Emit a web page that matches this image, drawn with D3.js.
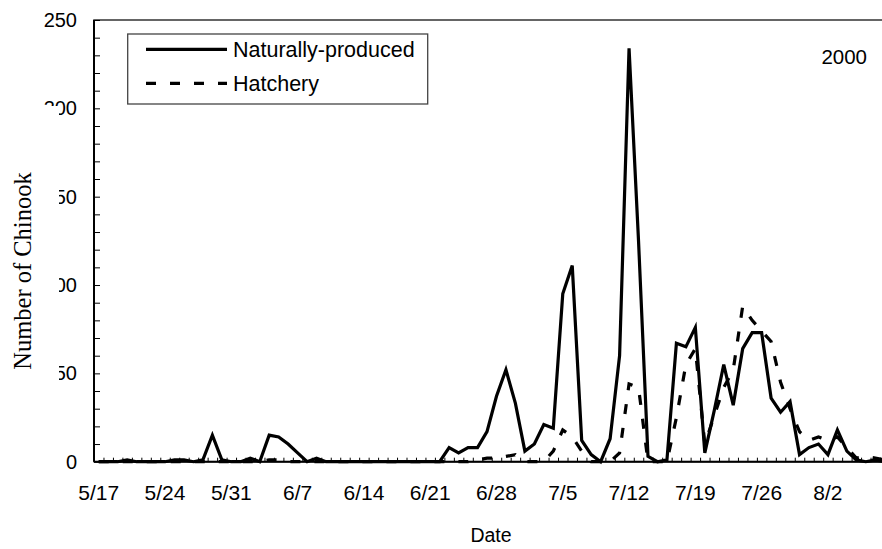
<!DOCTYPE html>
<html>
<head>
<meta charset="utf-8">
<script src="https://cdn.jsdelivr.net/npm/d3@7"></script>
<style>
  body { margin: 0; background: #fff; }
  svg { display: block; }
  text { font-family: "Liberation Sans", Arial, sans-serif; fill: #000; }
</style>
</head>
<body>
<svg width="882" height="549"></svg>
<script>
// daily categories, 5/17 .. 8/8 (2000)
const dates = d3.timeDay.range(new Date(2000, 4, 17), new Date(2000, 7, 9))
const fmt = d3.timeFormat("%-m/%-d")
const dayLabels = dates.map(fmt)

const tickLabels = ["5/17", "5/24", "5/31", "6/7", "6/14", "6/21", "6/28", "7/5", "7/12", "7/19", "7/26", "8/2"]
const yTicks = [0, 50, 100, 150, 200, 250]

// Naturally-produced, 5/17 .. 8/8
const natural = [
  0, 0, 0, 1, 0, 0, 0, 0, 1, 1, 0, 1, 15, 1, 0,          // 5/17-5/31
  0, 2, 0, 15, 14, 10, 5, 0, 2, 0, 0, 0, 0, 0, 0,        // 6/1-6/15
  0, 0, 0, 0, 0, 0, 0, 8, 5, 8, 8, 17, 37, 52, 33,       // 6/16-6/30
  6, 10, 21, 19, 95, 111, 12, 4, 0, 13, 60, 234, 125, 3, 0, // 7/1-7/15
  1, 67, 65, 76, 5, 29, 55, 32, 64, 73, 73, 36, 28, 34, 4, 8, // 7/16-7/31
  10, 4, 18, 6, 1, 0, 1, 0                               // 8/1-8/8
]

// Hatchery, 5/17 .. 8/8
const hatchery = [
  0, 0, 0, 0, 0, 0, 0, 0, 0, 0, 0, 0, 0, 0, 0,           // 5/17-5/31
  0, 0, 0, 1, 1, 0, 0, 0, 0, 0, 0, 0, 0, 0, 0,           // 6/1-6/15
  0, 0, 0, 0, 0, 0, 0, 0, 0, 0, 1, 2, 2, 3, 4,           // 6/16-6/30
  0, 0, 0, 6, 18, 14, 6, 0, 0, 0, 5, 44, 42, 0, 0,       // 7/1-7/15
  0, 25, 55, 64, 10, 26, 42, 52, 88, 80, 74, 68, 45, 30, 17, 12, // 7/16-7/31
  14, 12, 14, 8, 2, 3, 2, 1                              // 8/1-8/8
]

const svg = d3.select("svg")
const margin = {left: 94, top: 20}
const plotBottom = 461.7, step = 9.47

let x = d3.scaleBand()
  .domain(dayLabels)
  .range([margin.left, margin.left + step * dayLabels.length])
  .padding(0)
let xi = d3.scaleLinear().domain([0, dayLabels.length]).range(x.range())
let y = d3.scaleLinear().domain([0, 250]).range([plotBottom, margin.top])

const cx = d => x(d) + x.bandwidth() / 2

// plot frame (top border; right edge falls off the picture)
svg.append("rect")
  .attr("x", margin.left).attr("y", margin.top)
  .attr("width", 900 - margin.left).attr("height", plotBottom - margin.top)
  .attr("fill", "none").attr("stroke", "#333").attr("stroke-width", 1.5)

// x ticks between categories, pointing in
svg.append("g")
  .attr("transform", "translate(0," + plotBottom + ")")
  .call(d3.axisBottom(xi).tickValues(d3.range(dayLabels.length + 1)).tickSize(-4).tickFormat(""))
  .call(g => g.select(".domain").remove())
  .call(g => g.selectAll("line").attr("stroke", "#000").attr("stroke-width", 1))

// x labels
svg.append("g")
  .attr("transform", "translate(0," + plotBottom + ")")
  .call(d3.axisBottom(x).tickValues(tickLabels).tickSize(0).tickPadding(0))
  .call(g => g.select(".domain").remove())
  .call(g => g.selectAll("text")
    .attr("y", 38).attr("dy", null)
    .attr("font-size", 21).attr("font-family", "Liberation Sans, Arial, sans-serif"))

// y axis, minor ticks every 10
svg.append("g")
  .attr("transform", "translate(" + margin.left + ",0)")
  .call(d3.axisLeft(y).tickValues(d3.range(0, 251, 10)).tickSize(-6).tickPadding(17)
    .tickFormat(d => yTicks.includes(d) ? d : ""))
  .call(g => g.select(".domain").remove())
  .call(g => g.selectAll("line").attr("stroke", "#000").attr("stroke-width", 1))
  .call(g => g.selectAll("text")
    .attr("font-size", 20).attr("font-family", "Liberation Sans, Arial, sans-serif"))

// axis lines
svg.append("line")
  .attr("x1", margin.left).attr("x2", margin.left).attr("y1", margin.top).attr("y2", plotBottom)
  .attr("stroke", "#000").attr("stroke-width", 2)
svg.append("line")
  .attr("x1", margin.left).attr("x2", 882).attr("y1", plotBottom).attr("y2", plotBottom)
  .attr("stroke", "#000").attr("stroke-width", 2)

// series
let line = d3.line()
  .x((d, i) => cx(dayLabels[i]))
  .y(d => y(d))

svg.append("path")
  .datum(hatchery)
  .attr("d", line)
  .attr("fill", "none")
  .attr("stroke", "#000")
  .attr("stroke-width", 3.2)
  .attr("stroke-dasharray", "10,14")

svg.append("path")
  .datum(natural)
  .attr("d", line)
  .attr("fill", "none")
  .attr("stroke", "#000")
  .attr("stroke-width", 3.2)
  .attr("stroke-linejoin", "miter")

// axis title box hides the left part of the tick labels
svg.append("rect")
  .attr("x", 0).attr("y", 106).attr("width", 59).attr("height", 328)
  .attr("fill", "#fff")

svg.append("text")
  .attr("transform", "translate(31,271) rotate(-90)")
  .attr("text-anchor", "middle")
  .attr("font-size", 24.5)
  .style("font-family", "'Liberation Serif', 'Times New Roman', serif")
  .text("Number of Chinook")

svg.append("text")
  .attr("x", 491).attr("y", 541.5)
  .attr("text-anchor", "middle")
  .attr("font-size", 19.5)
  .text("Date")

svg.append("text")
  .attr("x", 867).attr("y", 64)
  .attr("text-anchor", "end")
  .attr("font-size", 20.5)
  .text("2000")

// legend
let legend = svg.append("g")
legend.append("rect")
  .attr("x", 127.7).attr("y", 34).attr("width", 300).attr("height", 70)
  .attr("fill", "#fff").attr("stroke", "#444").attr("stroke-width", 1.3)

const legendItems = [
  { name: "Naturally-produced", dash: null, y: 49.3 },
  { name: "Hatchery", dash: "10,14", y: 83.3 }
]
legendItems.forEach(d => {
  legend.append("line")
    .attr("x1", 146).attr("x2", 227).attr("y1", d.y).attr("y2", d.y)
    .attr("stroke", "#000").attr("stroke-width", 3.2)
    .attr("stroke-dasharray", d.dash)
  legend.append("text")
    .attr("x", 233).attr("y", d.y + 7.4)
    .attr("font-size", 21.5)
    .text(d.name)
})
</script>
</body>
</html>
